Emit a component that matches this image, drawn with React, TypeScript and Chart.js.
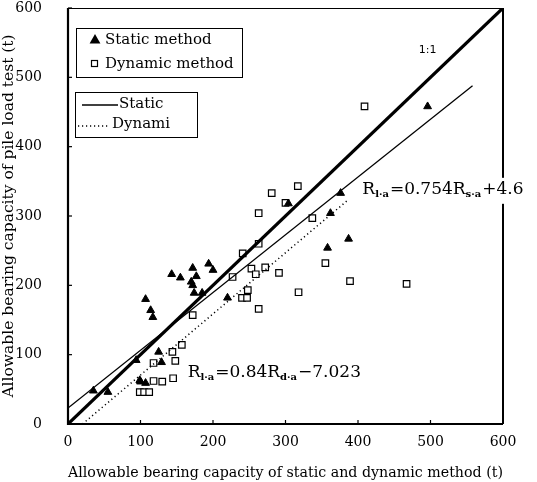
import React, { useEffect, useRef } from "react";
import { Chart, registerables } from "chart.js";
Chart.register(...registerables);

// Static method (filled triangles)
const staticX = [35, 55, 94, 99, 100, 107, 125, 129, 107, 114, 117, 143, 155, 172, 177, 170, 172, 174, 185, 194, 200, 220, 304, 358, 362, 376, 387, 496];
const staticY = [48, 46, 92, 63, 61, 59, 104, 89, 180, 164, 154, 216, 211, 225, 213, 205, 200, 189, 189, 231, 222, 182, 318, 254, 304, 333, 267, 458];

// Dynamic method (open squares)
const dynamicX = [99, 105, 112, 118, 130, 145, 118, 148, 144, 157, 172, 227, 240, 247, 248, 263, 241, 253, 259, 272, 291, 263, 263, 281, 300, 317, 318, 337, 355, 389, 467, 409];
const dynamicY = [46, 46, 46, 62, 61, 66, 88, 91, 104, 114, 157, 212, 182, 182, 193, 166, 246, 224, 216, 226, 218, 260, 304, 333, 319, 343, 190, 297, 232, 206, 202, 458];

// Lines
const oneToOneX = [0, 600];
const oneToOneY = [0, 600];
const staticFitX = [0, 558];
const staticFitY = [23, 488];
const dynamicFitX = [20, 385];
const dynamicFitY = [0, 322];

const xTicks = [0, 100, 200, 300, 400, 500, 600];
const yTicks = [0, 100, 200, 300, 400, 500, 600];

const xTitle = "Allowable bearing capacity of static and dynamic method (t)";
const yTitle = "Allowable bearing capacity of pile load test (t)";
const legendPoints = ["Static method", "Dynamic method"];
const legendLines = ["Static", "Dynami"];
const eqStatic = [["R", ""], ["l·a", "sub"], ["=0.754R", ""], ["s·a", "sub"], ["+4.6", ""]];
const eqDynamic = [["R", ""], ["l·a", "sub"], ["=0.84R", ""], ["d·a", "sub"], ["−7.023", ""]];
const eqStaticAt = [406, 332];
const eqDynamicAt = [165, 68];
const oneLabel = "1:1";
const oneLabelAt = [496, 539];

const SERIF = "'DejaVu Serif', serif";

function pairs(xs: number[], ys: number[]) {
  return xs.map((x, i) => ({ x, y: ys[i] }));
}

function drawTriangle(ctx: CanvasRenderingContext2D, cx: number, cy: number, r: number) {
  ctx.beginPath();
  ctx.moveTo(cx, cy - r);
  ctx.lineTo(cx + r * 0.9, cy + r * 0.6);
  ctx.lineTo(cx - r * 0.9, cy + r * 0.6);
  ctx.closePath();
  ctx.fill();
}

function drawEquation(ctx: CanvasRenderingContext2D, parts: string[][], x: number, y: number, bg: boolean) {
  const main = `17px ${SERIF}`;
  const sub = `bold 10px ${SERIF}`;
  let w = 0;
  for (const [t, k] of parts) {
    ctx.font = k === "sub" ? sub : main;
    w += ctx.measureText(t).width + (k === "sub" ? 1 : 0);
  }
  if (bg) {
    ctx.fillStyle = "#fff";
    ctx.fillRect(x - 3, y - 16, w + 6, 26);
  }
  ctx.fillStyle = "#000";
  ctx.textAlign = "left";
  ctx.textBaseline = "alphabetic";
  let cx = x;
  for (const [t, k] of parts) {
    ctx.font = k === "sub" ? sub : main;
    ctx.fillText(t, cx, k === "sub" ? y + 3 : y);
    cx += ctx.measureText(t).width + (k === "sub" ? 1 : 0);
  }
}

const overlay = {
  id: "overlay",
  afterDraw(chart: any) {
    const { ctx, chartArea: a, scales } = chart;
    const xs = scales.x;
    const ys = scales.y;
    ctx.save();
    ctx.strokeStyle = "#000";
    // frame
    ctx.lineWidth = 1;
    ctx.beginPath();
    ctx.moveTo(a.left, a.top + 0.5);
    ctx.lineTo(a.right, a.top + 0.5);
    ctx.stroke();
    ctx.lineWidth = 2;
    ctx.beginPath();
    ctx.moveTo(a.right, a.top);
    ctx.lineTo(a.right, a.bottom);
    ctx.stroke();
    ctx.lineWidth = 2.2;
    ctx.beginPath();
    ctx.moveTo(a.left, a.top);
    ctx.lineTo(a.left, a.bottom);
    ctx.lineTo(a.right, a.bottom);
    ctx.stroke();
    // inward ticks
    ctx.lineWidth = 1.2;
    for (const v of xTicks) {
      const px = xs.getPixelForValue(v);
      ctx.beginPath();
      ctx.moveTo(px, a.bottom);
      ctx.lineTo(px, a.bottom - 4);
      ctx.stroke();
    }
    for (const v of yTicks) {
      const py = ys.getPixelForValue(v);
      ctx.beginPath();
      ctx.moveTo(a.left, py);
      ctx.lineTo(a.left + 4, py);
      ctx.stroke();
    }

    // legend box 1 (points)
    const b1x = a.left + 8, b1y = a.top + 20, b1w = 166, b1h = 49;
    ctx.fillStyle = "#fff";
    ctx.fillRect(b1x, b1y, b1w, b1h);
    ctx.lineWidth = 1;
    ctx.strokeRect(b1x + 0.5, b1y + 0.5, b1w, b1h);
    ctx.fillStyle = "#000";
    drawTriangle(ctx, b1x + 19, b1y + 12, 6);
    ctx.lineWidth = 1.2;
    ctx.strokeRect(b1x + 15.5, b1y + 32.5, 6, 6);
    ctx.font = `15px ${SERIF}`;
    ctx.textAlign = "left";
    ctx.textBaseline = "middle";
    ctx.fillText(legendPoints[0], b1x + 29, b1y + 12);
    ctx.fillText(legendPoints[1], b1x + 29, b1y + 36);

    // legend box 2 (lines)
    const b2x = a.left + 7, b2y = a.top + 84, b2w = 122, b2h = 45;
    ctx.fillStyle = "#fff";
    ctx.fillRect(b2x, b2y, b2w, b2h);
    ctx.lineWidth = 1;
    ctx.strokeRect(b2x + 0.5, b2y + 0.5, b2w, b2h);
    ctx.lineWidth = 1.3;
    ctx.beginPath();
    ctx.moveTo(b2x + 7, b2y + 13);
    ctx.lineTo(b2x + 43, b2y + 13);
    ctx.stroke();
    ctx.setLineDash([1.2, 2.8]);
    ctx.lineWidth = 1.6;
    ctx.beginPath();
    ctx.moveTo(b2x + 3, b2y + 34);
    ctx.lineTo(b2x + 35, b2y + 34);
    ctx.stroke();
    ctx.setLineDash([]);
    ctx.fillStyle = "#000";
    ctx.font = `15px ${SERIF}`;
    ctx.fillText(legendLines[0], b2x + 44, b2y + 12);
    ctx.fillText(legendLines[1], b2x + 37, b2y + 32);

    // 1:1 label
    ctx.font = "11px 'DejaVu Sans', sans-serif";
    ctx.textAlign = "center";
    ctx.textBaseline = "middle";
    ctx.fillText(oneLabel, xs.getPixelForValue(oneLabelAt[0]), ys.getPixelForValue(oneLabelAt[1]));

    // equations
    drawEquation(ctx, eqStatic, xs.getPixelForValue(eqStaticAt[0]), ys.getPixelForValue(eqStaticAt[1]), true);
    drawEquation(ctx, eqDynamic, xs.getPixelForValue(eqDynamicAt[0]), ys.getPixelForValue(eqDynamicAt[1]), false);
    ctx.restore();
  },
};

export default function App() {
  const ref = useRef<HTMLCanvasElement | null>(null);
  useEffect(() => {
    if (!ref.current) return;
    const chart = new Chart(ref.current, {
      type: "scatter",
      data: {
        datasets: [
          {
            label: "1:1",
            data: pairs(oneToOneX, oneToOneY),
            showLine: true,
            borderColor: "#000",
            borderWidth: 3.2,
            pointRadius: 0,
          },
          {
            label: "Static",
            data: pairs(staticFitX, staticFitY),
            showLine: true,
            borderColor: "#000",
            borderWidth: 1.3,
            pointRadius: 0,
          },
          {
            label: "Dynami",
            data: pairs(dynamicFitX, dynamicFitY),
            showLine: true,
            borderColor: "#000",
            borderWidth: 1.5,
            borderDash: [1.2, 3],
            pointRadius: 0,
          },
          {
            label: "Static method",
            data: pairs(staticX, staticY),
            pointStyle: "triangle",
            pointRadius: 4.5,
            backgroundColor: "#000",
            borderColor: "#000",
            borderWidth: 1,
          },
          {
            label: "Dynamic method",
            data: pairs(dynamicX, dynamicY),
            pointStyle: "rect",
            pointRadius: 4.6,
            backgroundColor: "#fff",
            borderColor: "#000",
            borderWidth: 1.2,
          },
        ],
      },
      options: {
        responsive: false,
        animation: false,
        layout: { padding: { top: 8, right: 34, left: 0, bottom: 0 } },
        plugins: { legend: { display: false }, tooltip: { enabled: false } },
        scales: {
          x: {
            type: "linear",
            min: 0,
            max: 600,
            afterBuildTicks: (s: any) => {
              s.ticks = xTicks.map((v) => ({ value: v }));
            },
            afterFit: (s: any) => {
              s.height = 58;
              s.paddingLeft = 0;
              s.paddingRight = 0;
            },
            grid: { display: false, drawTicks: false },
            border: { display: false },
            ticks: { color: "#000", font: { family: SERIF, size: 14 }, padding: 10, maxRotation: 0 },
            title: {
              display: true,
              text: xTitle,
              color: "#000",
              font: { family: SERIF, size: 15.5 },
              padding: { top: 0, bottom: 0 },
            },
          },
          y: {
            type: "linear",
            min: 0,
            max: 600,
            afterBuildTicks: (s: any) => {
              s.ticks = yTicks.map((v) => ({ value: v }));
            },
            afterFit: (s: any) => {
              s.width = 68;
              s.paddingTop = 0;
              s.paddingBottom = 0;
            },
            grid: { display: false, drawTicks: false },
            border: { display: false },
            ticks: { color: "#000", font: { family: SERIF, size: 14 }, padding: 26 },
            title: {
              display: true,
              text: yTitle,
              color: "#000",
              font: { family: SERIF, size: 15.5 },
              padding: { top: 0, bottom: 0 },
            },
          },
        },
      },
      plugins: [overlay],
    });
    return () => chart.destroy();
  }, []);
  return (
    <div style={{ position: "fixed", left: 0, top: 0, width: 537, height: 482, background: "#fff" }}>
      <canvas ref={ref} width={537} height={482} style={{ display: "block", width: 537, height: 482 }} />
    </div>
  );
}
